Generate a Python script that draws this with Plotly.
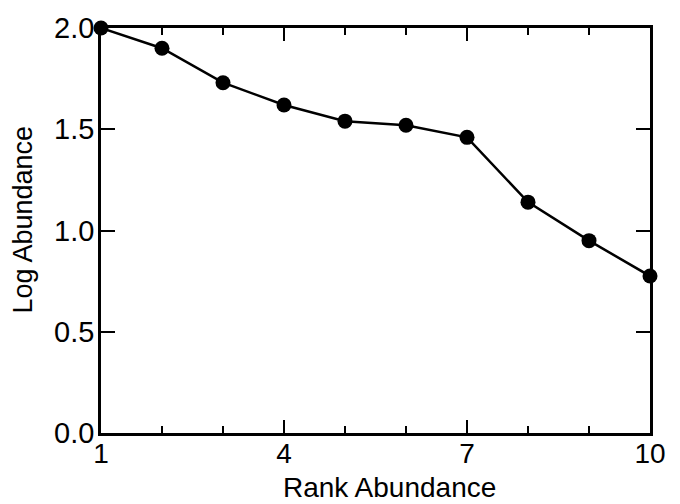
import plotly.graph_objects as go

rank = [1, 2, 3, 4, 5, 6, 7, 8, 9, 10]
log_abundance = [2.0, 1.90, 1.73, 1.62, 1.54, 1.52, 1.46, 1.14, 0.95, 0.775]
x_tickvals = [1, 4, 7, 10]
y_tickvals = [0.0, 0.5, 1.0, 1.5, 2.0]
y_ticktext = ["0.0", "0.5", "1.0", "1.5", "2.0"]

FONT = "Liberation Sans, Arial, sans-serif"

fig = go.Figure()
fig.add_trace(go.Scatter(
    x=rank, y=log_abundance, mode="lines+markers",
    line=dict(color="black", width=2.5),
    marker=dict(color="black", size=15),
    cliponaxis=False, showlegend=False,
))

fig.update_layout(
    width=680, height=504,
    margin=dict(l=101, r=30, t=25, b=71),
    paper_bgcolor="white", plot_bgcolor="white",
    font=dict(family=FONT, size=29, color="black"),
    xaxis=dict(
        range=[1, 10], tickvals=x_tickvals, ticks="inside", ticklen=13,
        tickwidth=2, tickcolor="black", showline=True, linecolor="black",
        linewidth=2.5, mirror="ticks", showgrid=False, zeroline=False,
        minor=dict(dtick=1, tick0=1, ticks="inside", ticklen=7, tickwidth=2,
                   tickcolor="black", showgrid=False),
        tickfont=dict(size=28), ticklabelstandoff=-6,
    ),
    yaxis=dict(
        range=[0, 2], tickvals=y_tickvals, ticktext=y_ticktext, ticks="inside",
        ticklen=14, tickwidth=2, tickcolor="black", showline=True,
        linecolor="black", linewidth=2.5, mirror="ticks", showgrid=False,
        zeroline=False, tickfont=dict(size=29), ticklabelstandoff=-2,
    ),
    annotations=[
        dict(text="Rank Abundance", xref="paper", yref="paper", x=0.526, y=0,
             yshift=-54, xanchor="center", yanchor="middle", showarrow=False,
             font=dict(size=28)),
        dict(text="Log Abundance", xref="paper", yref="paper", x=0, y=0.527,
             xshift=-78, xanchor="center", yanchor="middle", textangle=-90,
             showarrow=False, font=dict(size=27)),
    ],
)

fig.write_html("out.html")
